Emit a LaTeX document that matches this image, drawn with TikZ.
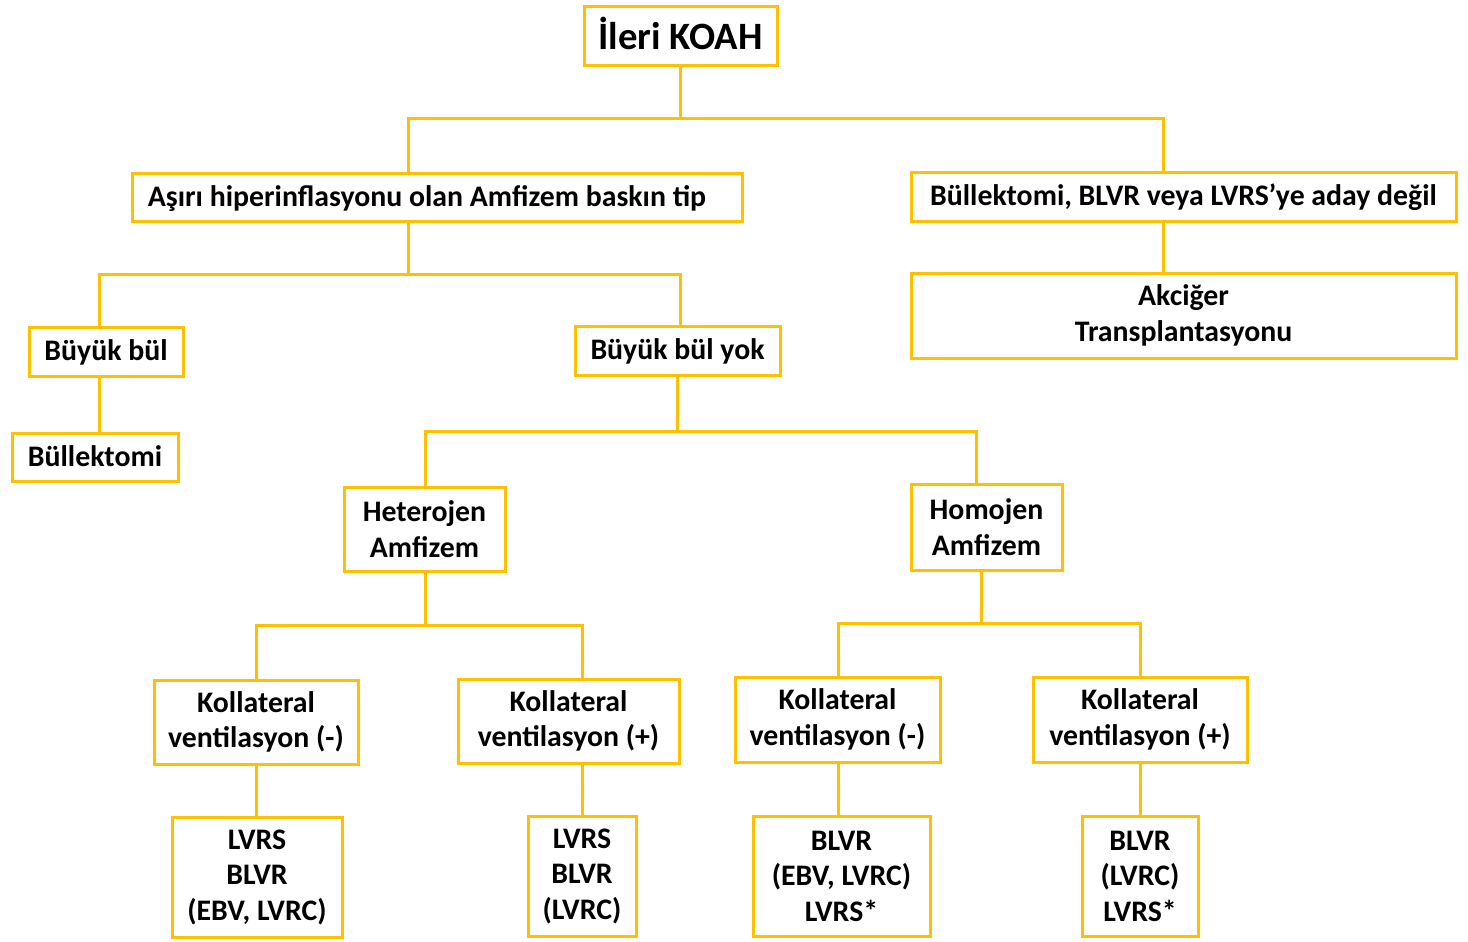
\documentclass[tikz,border=0pt]{standalone}
\usepackage{fontspec}
\setmainfont{Carlito}
\definecolor{gold}{HTML}{FFC000}
\newcommand\bodyfont{\fontsize{29.8}{35.5}\selectfont\bfseries}
\newcommand\titlefont{\fontsize{38.7}{44}\selectfont\bfseries}
\begin{document}
\begin{tikzpicture}[x=1pt,y=-1pt,
  box/.style={draw=gold, line width=3pt, fill=white, align=center,
              inner sep=0pt, font=\bodyfont, text=black},
  oneline/.style={text height=24pt, text depth=6pt},
  conn/.style={draw=gold, line width=3pt}]
\useasboundingbox (0,0) rectangle (1468,942);

% boxes
\node[box, font=\titlefont, text height=27pt, text depth=0pt, minimum width=193pt, minimum height=59pt] (koah) at (680.5,36.5) {İleri KOAH};
\node[box, oneline, minimum width=610pt, minimum height=48pt] (asiri) at (437,197) {Aşırı hiperinflasyonu olan Amfizem baskın tip\hspace*{20pt}};
\node[box, oneline, minimum width=545pt, minimum height=49pt] (bulnot) at (1183.5,196.5) {Büllektomi, BLVR veya LVRS’ye aday değil};
\node[box, minimum width=545pt, minimum height=85pt] (akciger) at (1183.5,315.5) {Akciğer\\Transplantasyonu};
\node[box, oneline, minimum width=154pt, minimum height=49pt] (buyuk) at (106,351.5) {Büyük bül};
\node[box, oneline, minimum width=166pt, minimum height=48pt] (bullek) at (95,457) {Büllektomi};
\node[box, oneline, minimum width=205pt, minimum height=49pt] (yok) at (677.5,350.5) {Büyük bül yok};
\node[box, minimum width=161pt, minimum height=84pt] (hetero) at (424.5,529) {Heterojen\\Amfizem};
\node[box, minimum width=151pt, minimum height=86pt] (homo) at (986.5,527) {Homojen\\Amfizem};
\node[box, minimum width=204pt, minimum height=84pt] (kvma) at (256,722) {Kollateral\\ventilasyon (-)};
\node[box, minimum width=221pt, minimum height=84pt] (kvpa) at (568.5,721) {Kollateral\\ventilasyon (+)};
\node[box, minimum width=205pt, minimum height=85pt] (kvmb) at (837.5,719.5) {Kollateral\\ventilasyon (-)};
\node[box, minimum width=214pt, minimum height=85pt] (kvpb) at (1140,719.5) {Kollateral\\ventilasyon (+)};
\node[box, minimum width=170pt, minimum height=120pt] (ra) at (257,877) {LVRS\\BLVR\\(EBV, LVRC)};
\node[box, minimum width=108pt, minimum height=120pt] (rb) at (582,876) {LVRS\\BLVR\\(LVRC)};
\node[box, minimum width=177pt, minimum height=120pt] (rc) at (841.5,876) {BLVR\\(EBV, LVRC)\\LVRS*};
\node[box, minimum width=116pt, minimum height=120pt] (rd) at (1140,876) {BLVR\\(LVRC)\\LVRS*};

% rails and columns of the connectors
\coordinate (ya) at (0,118);
\coordinate (yb) at (0,274);
\coordinate (yc) at (0,431);
\coordinate (yd) at (0,625);
\coordinate (ye) at (0,623);
\coordinate (xa) at (408,0);
\coordinate (xb) at (1163,0);
\coordinate (xc) at (99,0);
\coordinate (xd) at (680,0);
\coordinate (xe) at (677,0);
\coordinate (xf) at (425,0);
\coordinate (xg) at (976,0);
\coordinate (xh) at (256,0);
\coordinate (xi) at (582,0);
\coordinate (xj) at (981,0);
\coordinate (xk) at (838,0);
\coordinate (xl) at (1140,0);

% connectors
\draw[conn] (koah.south) -- (koah.south |- ya);
\draw[conn] (asiri.north -| xa) -- (xa |- ya) -- (xb |- ya) -- (bulnot.north -| xb);
\draw[conn] (bulnot.south -| xb) -- (akciger.north -| xb);

\draw[conn] (asiri.south -| xa) -- (xa |- yb);
\draw[conn] (buyuk.north -| xc) -- (xc |- yb) -- (xd |- yb) -- (yok.north -| xd);
\draw[conn] (buyuk.south -| xc) -- (bullek.north -| xc);

\draw[conn] (yok.south -| xe) -- (xe |- yc);
\draw[conn] (hetero.north -| xf) -- (xf |- yc) -- (xg |- yc) -- (homo.north -| xg);

\draw[conn] (hetero.south -| xf) -- (xf |- yd);
\draw[conn] (kvma.north -| xh) -- (xh |- yd) -- (xi |- yd) -- (kvpa.north -| xi);
\draw[conn] (homo.south -| xj) -- (xj |- ye);
\draw[conn] (kvmb.north -| xk) -- (xk |- ye) -- (xl |- ye) -- (kvpb.north -| xl);

\draw[conn] (kvma.south -| xh) -- (ra.north -| xh);
\draw[conn] (kvpa.south -| xi) -- (rb.north -| xi);
\draw[conn] (kvmb.south -| xk) -- (rc.north -| xk);
\draw[conn] (kvpb.south -| xl) -- (rd.north -| xl);
\end{tikzpicture}
\end{document}
